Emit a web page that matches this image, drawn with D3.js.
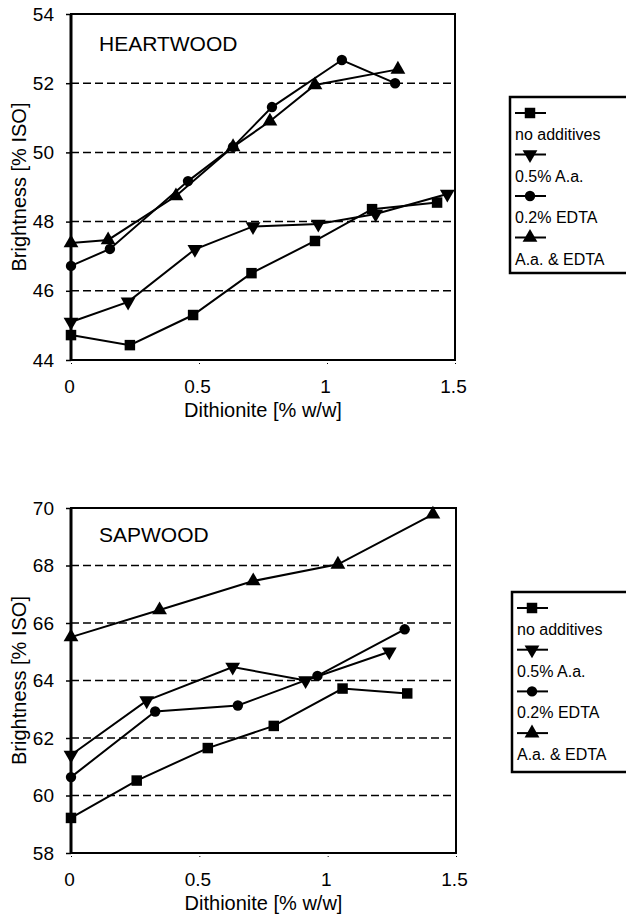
<!DOCTYPE html>
<html>
<head>
<meta charset="utf-8">
<script src="https://cdn.jsdelivr.net/npm/d3@7"></script>
<style>
    body { margin: 0; background: white; }
    text { font-family: Arial, "Liberation Sans", sans-serif; fill: black; }
    .tickLabel { font-size: 19px; }
    .axisTitle { font-size: 20px; }
    .panelLabel { font-size: 21px; }
    .legendLabel { font-size: 16px; }
</style>
</head>
<body>
<svg id="chart"></svg>
<script>
var width = 626;
var height = 922;

// series names + x/y ticks
var seriesNames = ["no additives", "0.5% A.a.", "0.2% EDTA", "A.a. & EDTA"];
var seriesSymbols = ["square", "triangleDown", "circle", "triangleUp"];
var xTicks = [0, 0.5, 1, 1.5];
var heartTicks = [44, 46, 48, 50, 52, 54];
var sapTicks = [58, 60, 62, 64, 66, 68, 70];

// heartwood data [dithionite, brightness]
var heartNoAdd = [[0, 44.72], [0.23, 44.43], [0.477, 45.30], [0.705, 46.51], [0.953, 47.44], [1.176, 48.36], [1.43, 48.55]];
var heartAa = [[0, 45.10], [0.223, 45.68], [0.484, 47.2], [0.711, 47.86], [0.966, 47.93], [1.19, 48.22], [1.47, 48.8]];
var heartEdta = [[0, 46.72], [0.152, 47.21], [0.457, 49.17], [0.633, 50.16], [0.785, 51.31], [1.058, 52.67], [1.266, 52.0]];
var heartBoth = [[0, 47.38], [0.145, 47.47], [0.41, 48.74], [0.633, 50.16], [0.777, 50.9], [0.953, 51.95], [1.277, 52.4]];

// sapwood data
var sapNoAdd = [[0, 59.22], [0.256, 60.52], [0.533, 61.65], [0.79, 62.42], [1.058, 63.72], [1.31, 63.55]];
var sapAa = [[0, 61.41], [0.295, 63.3], [0.63, 64.47], [0.914, 64.0], [1.24, 65.0]];
var sapEdta = [[0, 60.64], [0.328, 62.92], [0.65, 63.13], [0.96, 64.16], [1.30, 65.78]];
var sapBoth = [[0, 65.51], [0.345, 66.45], [0.71, 67.46], [1.04, 68.04], [1.41, 69.78]];

var svg = d3.select("#chart")
    .attr("width", width)
    .attr("height", height);

svg.append("rect")
    .attr("width", width)
    .attr("height", height)
    .attr("fill", "white");

function markerPath(kind) {
    if (kind == "square") return d3.symbol().type(d3.symbolSquare).size(110)();
    if (kind == "circle") return d3.symbol().type(d3.symbolCircle).size(85)();
    return d3.symbol().type(d3.symbolTriangle).size(95)();
}

function drawMarker(g, kind, x, y) {
    g.append("path")
        .attr("d", markerPath(kind))
        .attr("transform", "translate(" + x + "," + y + ")" + (kind == "triangleDown" ? " rotate(180)" : ""))
        .attr("fill", "black");
}

function drawPanel(opts) {
    var g = svg.append("g");

    var xScale = d3.scaleLinear()
        .domain([0, 1.5])
        .range([opts.left, opts.right]);

    var yScale = d3.scaleLinear()
        .domain(d3.extent(opts.yTicks))
        .range([opts.bottom, opts.top]);

    // dashed grid
    g.selectAll(".grid")
        .data(opts.yTicks.slice(1, -1))
        .enter().append("line")
        .attr("x1", opts.left)
        .attr("x2", opts.right)
        .attr("y1", function(d) { return yScale(d); })
        .attr("y2", function(d) { return yScale(d); })
        .attr("stroke", "black")
        .attr("stroke-width", 1.5)
        .attr("stroke-dasharray", "8,4");

    // y-axis
    var yAxis = g.append("g")
        .attr("transform", "translate(" + opts.left + ",0)")
        .call(d3.axisLeft(yScale).tickValues(opts.yTicks).tickSize(5).tickPadding(12));
    yAxis.select(".domain").remove();
    yAxis.selectAll(".tick line").attr("stroke-width", 1.5);
    yAxis.selectAll("text")
        .attr("class", "tickLabel")
        .attr("font-size", null)
        .attr("font-family", null);

    // x-axis
    var xAxis = g.append("g")
        .attr("transform", "translate(0," + opts.bottom + ")")
        .call(d3.axisBottom(xScale).tickValues(xTicks).tickSize(5).tickPadding(0)
            .tickFormat(function(d) { return d; }));
    xAxis.select(".domain").remove();
    xAxis.selectAll(".tick line").attr("stroke-dasharray", "1,2");
    xAxis.selectAll("text")
        .attr("class", "tickLabel")
        .attr("font-size", null)
        .attr("font-family", null)
        .attr("dy", null)
        .attr("y", 33)
        .attr("dx", -2);

    // frame
    g.append("rect")
        .attr("x", opts.left)
        .attr("y", opts.top)
        .attr("width", opts.right - opts.left)
        .attr("height", opts.bottom - opts.top)
        .attr("fill", "none")
        .attr("stroke", "black")
        .attr("stroke-width", 2);
    g.append("line")
        .attr("x1", opts.left)
        .attr("x2", opts.left)
        .attr("y1", opts.top)
        .attr("y2", opts.bottom)
        .attr("stroke", "black")
        .attr("stroke-width", 3);

    var line = d3.line()
        .x(function(d) { return xScale(d[0]); })
        .y(function(d) { return yScale(d[1]); });

    opts.series.forEach(function(s, i) {
        g.append("path")
            .attr("d", line(s))
            .attr("fill", "none")
            .attr("stroke", "black")
            .attr("stroke-width", 2);
        s.forEach(function(p) {
            drawMarker(g, seriesSymbols[i], xScale(p[0]), yScale(p[1]));
        });
    });

    g.append("text")
        .attr("class", "panelLabel")
        .attr("x", opts.left + 28)
        .attr("y", opts.labelY)
        .text(opts.label);

    g.append("text")
        .attr("class", "axisTitle")
        .attr("x", (opts.left + opts.right) / 2)
        .attr("y", opts.bottom + 57)
        .attr("text-anchor", "middle")
        .text("Dithionite [% w/w]");

    g.append("text")
        .attr("class", "axisTitle")
        .attr("transform", "translate(26," + ((opts.top + opts.bottom) / 2) + ") rotate(-90)")
        .attr("text-anchor", "middle")
        .text("Brightness [% ISO]");

    // legend
    var lg = g.append("g");
    lg.append("rect")
        .attr("x", opts.legendX)
        .attr("y", opts.legendY)
        .attr("width", 140)
        .attr("height", opts.legendH)
        .attr("fill", "white")
        .attr("stroke", "black")
        .attr("stroke-width", 2.5);

    seriesNames.forEach(function(name, i) {
        var my = opts.legendY + 16 + i * opts.legendStep;
        lg.append("line")
            .attr("x1", opts.legendX + 5)
            .attr("x2", opts.legendX + 36)
            .attr("y1", my)
            .attr("y2", my)
            .attr("stroke", "black")
            .attr("stroke-width", 2);
        drawMarker(lg, seriesSymbols[i], opts.legendX + 20, my);
        lg.append("text")
            .attr("class", "legendLabel")
            .attr("x", opts.legendX + 5)
            .attr("y", my + 27)
            .text(name);
    });
}

drawPanel({
    left: 71, right: 455, top: 14, bottom: 360,
    yTicks: heartTicks,
    series: [heartNoAdd, heartAa, heartEdta, heartBoth],
    label: "HEARTWOOD", labelY: 51,
    legendX: 510, legendY: 97, legendH: 176, legendStep: 41.5
});

drawPanel({
    left: 71, right: 456, top: 508, bottom: 853,
    yTicks: sapTicks,
    series: [sapNoAdd, sapAa, sapEdta, sapBoth],
    label: "SAPWOOD", labelY: 542,
    legendX: 512, legendY: 592, legendH: 180, legendStep: 41.7
});
</script>
</body>
</html>
